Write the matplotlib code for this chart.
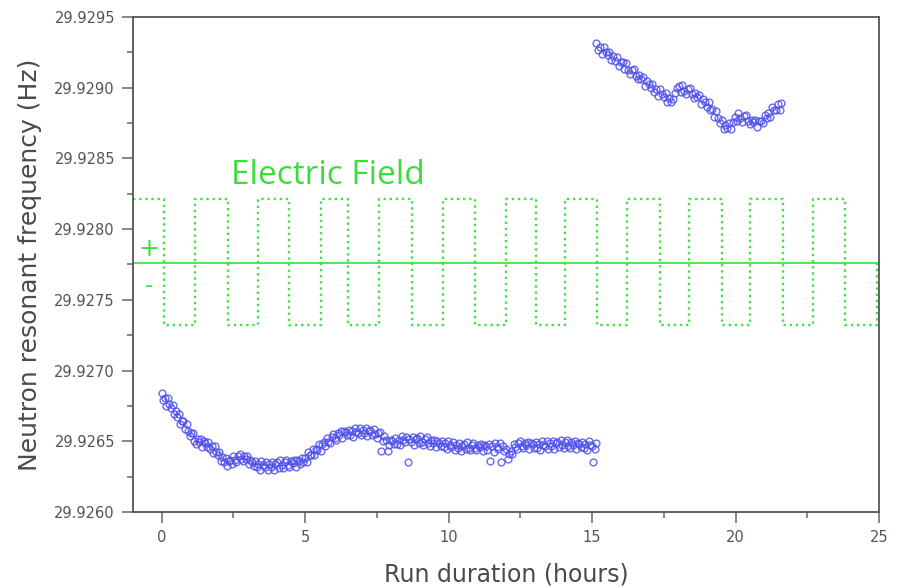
import matplotlib
matplotlib.use("Agg")
import matplotlib.pyplot as plt
import numpy as np
from matplotlib.ticker import MultipleLocator, FormatStrFormatter

# Resonant frequency readings, as offsets in micro-Hz above 29.926 Hz
BASE_HZ = 29.926

# first run: 0 to 15.15 h, regularly sampled
run1_start, run1_end = 0.0, 15.15
run1_uhz = [
    843, 790, 805, 752, 803, 760, 733, 757, 692, 715,
    670, 690, 620, 643, 640, 587, 622, 570, 535, 560,
    555, 504, 480, 515, 493, 514, 460, 500, 490, 462,
    496, 448, 467, 415, 466, 425, 400, 425, 360, 386,
    356, 385, 325, 360, 370, 337, 394, 365, 350, 395,
    413, 377, 360, 397, 376, 394, 336, 370, 355, 325,
    360, 318, 342, 300, 361, 331, 318, 353, 299, 336,
    315, 351, 297, 336, 350, 313, 365, 329, 311, 352,
    369, 332, 317, 358, 343, 369, 319, 364, 360, 340,
    384, 350, 385, 353, 424, 404, 400, 445, 400, 447,
    435, 478, 431, 478, 498, 468, 526, 497, 485, 533,
    554, 522, 511, 556, 544, 572, 524, 570, 566, 543,
    582, 543, 571, 532, 596, 569, 558, 595, 542, 580,
    559, 593, 537, 573, 582, 542, 589, 549, 523, 555,
    565, 430, 499, 534, 512, 428, 474, 512, 505, 482,
    521, 483, 511, 472, 535, 506, 493, 530, 350, 514,
    494, 529, 475, 513, 525, 486, 535, 497, 476, 515,
    528, 488, 469, 507, 488, 511, 458, 499, 491, 465,
    502, 460, 485, 443, 503, 472, 458, 493, 438, 474,
    452, 486, 430, 468, 480, 442, 492, 455, 435, 475,
    490, 452, 435, 475, 458, 482, 430, 472, 465, 440,
    478, 360, 465, 425, 488, 460, 448, 485, 355, 470,
    430, 445, 375, 408, 430, 412, 482, 460, 447, 490,
    505, 467, 450, 490, 473, 497, 445, 487, 480, 455,
    493, 453, 480, 440, 503, 475, 463, 500, 447, 485,
    468, 503, 448, 486, 498, 460, 510, 473, 453, 493,
    508, 470, 453, 493, 476, 500, 448, 490, 483, 458,
    493, 453, 480, 440, 503, 475, 463, 355, 447, 485,
]

# second run: 15.15 to 21.6 h
run2_start, run2_end = 15.15, 21.6
run2_uhz = [
    3318, 3268, 3285, 3236, 3289, 3251, 3229, 3256, 3193, 3222,
    3192, 3217, 3152, 3180, 3182, 3135, 3175, 3128, 3098, 3128,
    3133, 3086, 3059, 3089, 3062, 3076, 3014, 3046, 3029, 2995,
    3023, 2973, 2990, 2940, 2994, 2956, 2934, 2961, 2898, 2926,
    2896, 2921, 2965, 3001, 3010, 2970, 3017, 2977, 2955, 2991,
    3000, 2954, 2928, 2960, 2933, 2947, 2885, 2917, 2900, 2865,
    2898, 2843, 2850, 2790, 2833, 2785, 2753, 2775, 2707, 2735,
    2712, 2750, 2705, 2758, 2790, 2767, 2822, 2783, 2760, 2797,
    2808, 2764, 2741, 2775, 2754, 2774, 2720, 2767, 2767, 2750,
    2808, 2783, 2823, 2795, 2866, 2845, 2840, 2885, 2842, 2890,
]

# electric field polarity switching (hours)
field_fall = [0.07, 2.30, 4.42, 6.51, 8.74, 10.93, 13.06, 15.18, 17.37, 19.53, 21.66, 23.82]
field_rise = [1.15, 3.34, 5.54, 7.59, 9.82, 12.01, 14.07, 16.23, 18.38, 20.51, 22.70, 24.93]
field_high, field_low, field_mid = 29.92821, 29.92732, 29.92776

BLUE = "#5050eb"
GREEN = "#3cdc3c"
AXIS = "#555555"
TEXT = "#4a4a4a"

t1 = np.linspace(run1_start, run1_end, len(run1_uhz))
t2 = np.linspace(run2_start, run2_end, len(run2_uhz))
f1 = BASE_HZ + np.array(run1_uhz) * 1e-6
f2 = BASE_HZ + np.array(run2_uhz) * 1e-6

wave_x = [-1.0]
wave_y = [field_high]
for fall, rise in zip(field_fall, field_rise):
    wave_x += [fall, rise]
    wave_y += [field_low, field_high]
wave_y[-1] = field_mid
wave_x.append(26.0)
wave_y.append(field_mid)

fig = plt.figure(figsize=(9.01, 5.88), dpi=100)
ax = fig.add_axes([0.1476, 0.1293, 0.828, 0.8418])

ax.plot(wave_x, wave_y, drawstyle="steps-post", color="#44e044",
        lw=1.7, ls=(0, (1, 1.6)))
ax.axhline(field_mid, color=GREEN, lw=1.2)

for t, f in ((t1, f1), (t2, f2)):
    ax.plot(t, f, ls="none", marker="o", ms=4.9, mfc="none",
            mec=BLUE, mew=1.0, alpha=0.85)

ax.text(2.4, 29.92838, "Electric Field", color=GREEN, fontsize=24,
        family="Open Sans", va="center", ha="left")
ax.text(-0.45, 29.92786, "+", color=GREEN, fontsize=18, ha="center", va="center")
ax.text(-0.45, 29.92760, "-", color=GREEN, fontsize=16, ha="center", va="center")

ax.set_xlim(-1, 25)
ax.set_ylim(29.9260, 29.9295)
ax.xaxis.set_major_locator(MultipleLocator(5))
ax.xaxis.set_minor_locator(MultipleLocator(2.5))
ax.yaxis.set_major_locator(MultipleLocator(0.0005))
ax.yaxis.set_minor_locator(MultipleLocator(0.00025))
ax.yaxis.set_major_formatter(FormatStrFormatter("%.4f"))

ax.tick_params(which="major", direction="out", length=8, width=1.1,
               color="#666666", labelsize=10.5, labelcolor="#5a5252", pad=5)
ax.tick_params(which="minor", direction="out", length=4.5, width=1.1,
               color="#666666")
for s in ax.spines.values():
    s.set_color(AXIS)
    s.set_linewidth(1.3)

ax.set_xlabel("Run duration (hours)", fontsize=17, color=TEXT)
ax.set_ylabel("Neutron resonant frequency (Hz)", fontsize=18, color=TEXT)
ax.xaxis.set_label_coords(0.5, -0.103)
ax.yaxis.set_label_coords(-0.122, 0.5)

fig.savefig("out.png", dpi=100)
